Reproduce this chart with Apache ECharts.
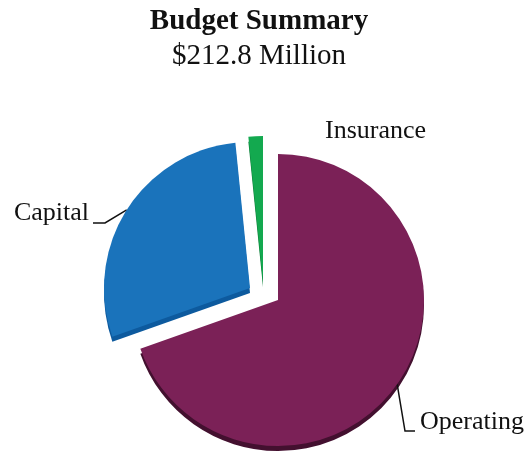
<!DOCTYPE html>
<html>
<head>
<meta charset="utf-8">
<script src="https://cdn.jsdelivr.net/npm/echarts@6/dist/echarts.min.js"></script>
<style>
  html, body { margin: 0; padding: 0; background: #ffffff; }
  #chart { width: 529px; height: 451px; }
</style>
</head>
<body>
<div id="chart"></div>
<script>
// Budget breakdown, $ millions
const categories = ['Operating', 'Capital', 'Insurance'];
const values = [148.1, 61.3, 3.4];
const titleText = 'Budget Summary';
const subtitleText = '$212.8 Million';

const topColors = ['#7b2157', '#1a73bb', '#13a94f'];
const sideColors = ['#43102f', '#0d5a9e', '#0b7d38'];

// Each slice is drawn by its own pie series so it can sit at its own (exploded) centre
const centers = [[278, 300], [250, 288], [263, 282]];
const RADIUS = 146;
const DEPTH = 5; // visible thickness of the disc
const FONT = '"Liberation Serif", "Times New Roman", serif';

// label placement per slice: [x, y, align]
const labelPlacement = [
  [420, 422, 'left'],
  [89, 213, 'right'],
  [325, 131, 'left']
];

function labelLayout(params) {
  const p = labelPlacement[params.dataIndex];
  const out = { x: p[0], y: p[1], align: p[2], verticalAlign: 'middle' };
  const pts = params.labelLinePoints;
  if (pts && pts.length) {
    const start = pts[0];
    if (params.dataIndex === 0) {
      out.labelLinePoints = [start, [p[0] - 15, p[1] + 9], [p[0] - 5, p[1] + 9]];
    } else if (params.dataIndex === 1) {
      out.labelLinePoints = [start, [p[0] + 16, p[1] + 10], [p[0] + 4, p[1] + 10]];
    }
  }
  return out;
}

function sliceSeries(k, isSide) {
  const c = centers[k];
  return {
    type: 'pie',
    name: categories[k],
    center: isSide ? [c[0], c[1] + DEPTH] : c,
    radius: RADIUS,
    startAngle: 90,
    clockwise: true,
    avoidLabelOverlap: false,
    silent: true,
    animation: false,
    z: isSide ? 1 : 2,
    itemStyle: { borderWidth: 0 },
    emphasis: { disabled: true },
    label: {
      position: 'outside',
      formatter: '{b}',
      fontFamily: FONT,
      fontSize: 26,
      color: '#111111'
    },
    labelLine: {
      smooth: false,
      lineStyle: { color: '#111111', width: 1.5 }
    },
    labelLayout: labelLayout,
    data: categories.map(function (name, i) {
      const own = i === k;
      return {
        name: name,
        value: values[i],
        itemStyle: { color: own ? (isSide ? sideColors[i] : topColors[i]) : 'rgba(0,0,0,0)' },
        label: { show: !isSide && own },
        labelLine: { show: !isSide && own && i !== 2 }
      };
    })
  };
}

const series = [];
for (let k = 0; k < categories.length; k++) series.push(sliceSeries(k, true));
for (let k = 0; k < categories.length; k++) series.push(sliceSeries(k, false));

const chart = echarts.init(document.getElementById('chart'), null, { renderer: 'canvas' });
chart.setOption({
  backgroundColor: '#ffffff',
  animation: false,
  title: {
    text: titleText,
    subtext: subtitleText,
    left: 254,
    top: 2,
    textAlign: 'center',
    itemGap: 6,
    textStyle: { fontFamily: FONT, fontSize: 29, fontWeight: 'bold', color: '#111111' },
    subtextStyle: { fontFamily: FONT, fontSize: 29, fontWeight: 'normal', color: '#111111' }
  },
  series: series
});
</script>
</body>
</html>
